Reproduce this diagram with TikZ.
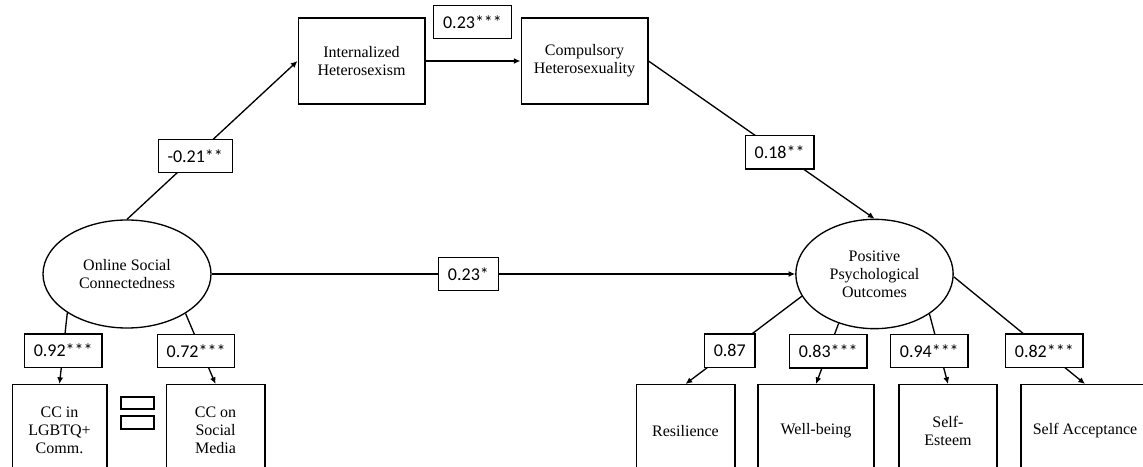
\documentclass[tikz,border=0pt]{standalone}
\usepackage{fontspec}
\setmainfont{Liberation Serif}
\newfontfamily\coeffont{Carlito}
\usetikzlibrary{arrows.meta,shapes.geometric}

\begin{document}
\begin{tikzpicture}[
  x=0.75pt,y=0.75pt,
  construct/.style={draw,line width=1pt,fill=white,align=center,inner sep=0pt,font=\fontsize{12}{13.5}\selectfont},
  latent/.style={draw,ellipse,line width=1pt,align=center,inner sep=0pt,font=\fontsize{12}{13.5}\selectfont},
  indicator/.style={construct,anchor=north,minimum height=69pt},
  coef/.style={draw,line width=1pt,fill=white,inner xsep=7pt,inner ysep=0pt,minimum height=25pt,font=\coeffont\fontsize{13.5}{15}\selectfont},
  path/.style={-{Latex[length=5pt,width=4.5pt]},line width=1pt}
]
  \useasboundingbox (0,0) rectangle (1143,-467);
  \clip (0,0) rectangle (1143,-467);
  \node[construct,minimum width=95pt,minimum height=64.5pt] (ih) at (361.5,-61) {Internalized\\Heterosexism};
  \node[construct,minimum width=95pt,minimum height=64.5pt] (ch) at (584.5,-61) {Compulsory\\Heterosexuality};
  \node[latent,minimum width=126pt,minimum height=81pt] (osc) at (127,-274) {Online Social\\Connectedness};
  \node[latent,minimum width=118pt,minimum height=82pt] (ppo) at (874.5,-274) {Positive\\Psychological\\Outcomes};
  \node[indicator,minimum width=71pt] (lgbtq) at (59.5,-384) {CC in\\LGBTQ+\\Comm.};
  \node[indicator,minimum width=74pt] (social) at (215.5,-384) {CC on\\Social\\Media};
  \node[indicator,minimum width=74pt] (resil) at (685.5,-384) {Resilience};
  \node[indicator,minimum width=87pt] (wellb) at (816,-384) {Well-being};
  \node[indicator,minimum width=73.5pt] (esteem) at (948,-384) {Self-\\Esteem};
  \node[indicator,minimum width=96pt] (accept) at (1085,-384) {Self Acceptance};
  % structural paths
  \draw[path] (osc.north) -- node[coef,pos=0.40]{-0.21**} (ih.west);
  \draw[path] (ih) -- (ch);
  \node[coef] (ihch) at (472.5,-22) {0.23***};
  \draw[path] (ch.east) -- node[coef,pos=0.58]{0.18**} (ppo.north);
  \draw[path] (osc) -- node[coef,pos=0.44]{0.23*} (ppo);
  % loadings
  \draw[path] (osc.213) -- node[coef,pos=0.53]{0.92***} (lgbtq.north);
  \draw[path] (osc.326) -- node[coef,pos=0.53,xshift=-4pt]{0.72***} (social.north);
  \draw[path] (ppo.197) -- node[coef,pos=0.62]{0.87} (resil.north);
  \draw[path] (ppo.234) -- node[coef,pos=0.46]{0.83***} (wellb.north);
  \draw[path] (ppo.324) -- node[coef,pos=0.53,xshift=-7.5pt]{0.94***} (esteem.north);
  \draw[path] (ppo.358) -- node[coef,pos=0.69]{0.82***} (accept.north);
  \draw[line width=1pt] (121,-397) rectangle (154,-409);
  \draw[line width=1pt] (121,-416) rectangle (154,-429);
\end{tikzpicture}
\end{document}
